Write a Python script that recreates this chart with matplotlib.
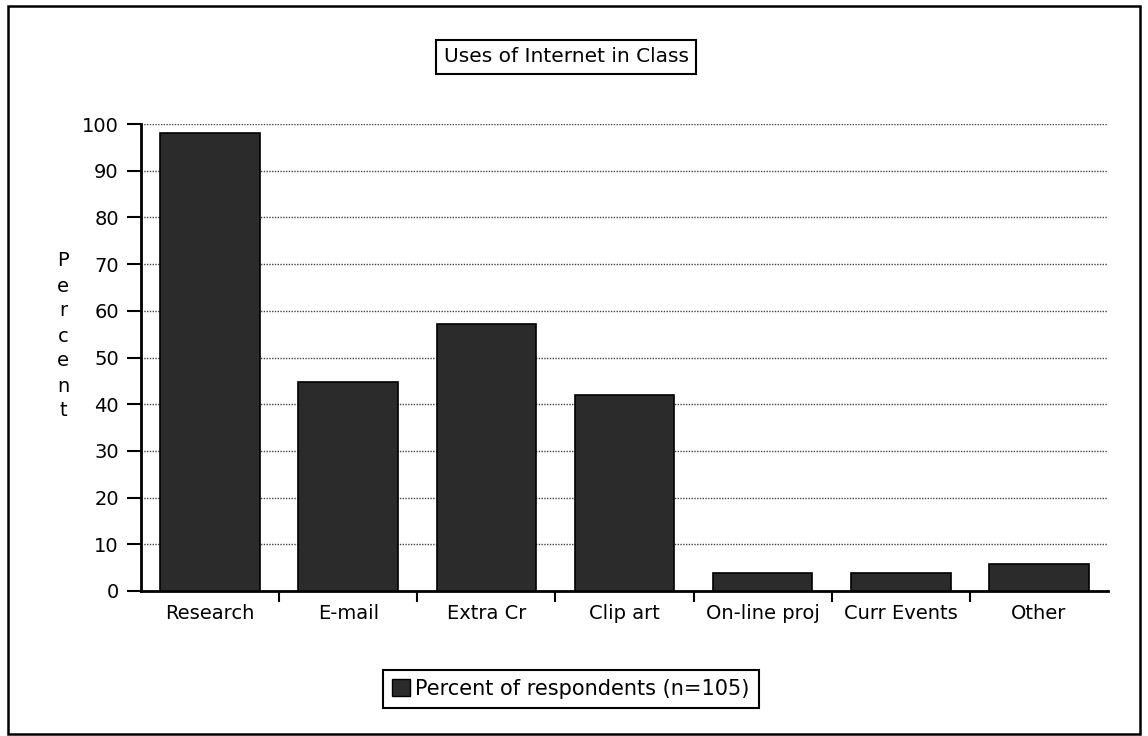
import matplotlib
matplotlib.use("Agg")
import matplotlib.pyplot as plt
from matplotlib.patches import Rectangle, Patch

categories = ["Research", "E-mail", "Extra Cr", "Clip art", "On-line proj", "Curr Events", "Other"]
values = [98.1, 44.8, 57.1, 41.9, 3.8, 3.8, 5.7]
yticks = [0, 10, 20, 30, 40, 50, 60, 70, 80, 90, 100]
title = "Uses of Internet in Class"
legend_label = "Percent of respondents (n=105)"

plt.rcParams['font.family'] = ['DejaVu Sans']
FS = 14
fig = plt.figure(figsize=(11.48, 7.36), dpi=100)
fig.patch.set_facecolor('white')

# outer frame
fig.patches.append(Rectangle((8/1148, 2/736), 1132/1148, 728/736, transform=fig.transFigure,
                             fill=False, edgecolor='black', linewidth=1.8))

ax = fig.add_axes([141/1148, 1-591/736, (1108-141)/1148, (591-124)/736])
x = list(range(len(categories)))
ax.bar(x, values, width=0.72, color='#2b2b2b', edgecolor='black', linewidth=1.2, zorder=3,
       label=legend_label)
ax.set_xlim(-0.5, len(categories)-0.5)
ax.set_ylim(0, 100)
ax.set_yticks(yticks)
ax.set_yticklabels([str(v) for v in yticks], fontsize=FS)
ax.yaxis.grid(True, linestyle=(0, (1, 1)), color='#444444', linewidth=1.0, zorder=0)
ax.set_xticks([i - 0.5 for i in range(1, len(categories))])
ax.set_xticklabels([])
ax.tick_params(axis='x', length=8, width=1.5, direction='out')
ax.tick_params(axis='y', length=10, width=1.5, direction='out', pad=6)
for i, c in enumerate(categories):
    ax.text(i, -2.8, c, ha='center', va='top', fontsize=FS,
            transform=ax.transData)
for s in ['top', 'right']:
    ax.spines[s].set_visible(False)
ax.spines['left'].set_linewidth(2)
ax.spines['bottom'].set_linewidth(2)

# y label as stacked letters
fig.text(63/1148, 1-336/736, "\n".join("Percent"), ha='center', va='center',
         fontsize=FS, linespacing=1.4)

# title box
fig.text(566/1148, 1-57/736, title, ha='center', va='center', fontsize=FS + 0.5,
         bbox=dict(boxstyle='square,pad=0.35', facecolor='white', edgecolor='black', linewidth=1.5))

# legend
leg = fig.legend(handles=[Patch(facecolor='#2b2b2b', edgecolor='black', label=legend_label)],
                 loc='center', bbox_to_anchor=(571/1148, 1-689/736), fontsize=FS + 1,
                 frameon=True, fancybox=False, edgecolor='black', framealpha=1,
                 handlelength=0.85, handleheight=0.9, handletextpad=0.25, borderpad=0.45)
leg.get_frame().set_linewidth(1.5)

fig.savefig("out.png", dpi=100)
